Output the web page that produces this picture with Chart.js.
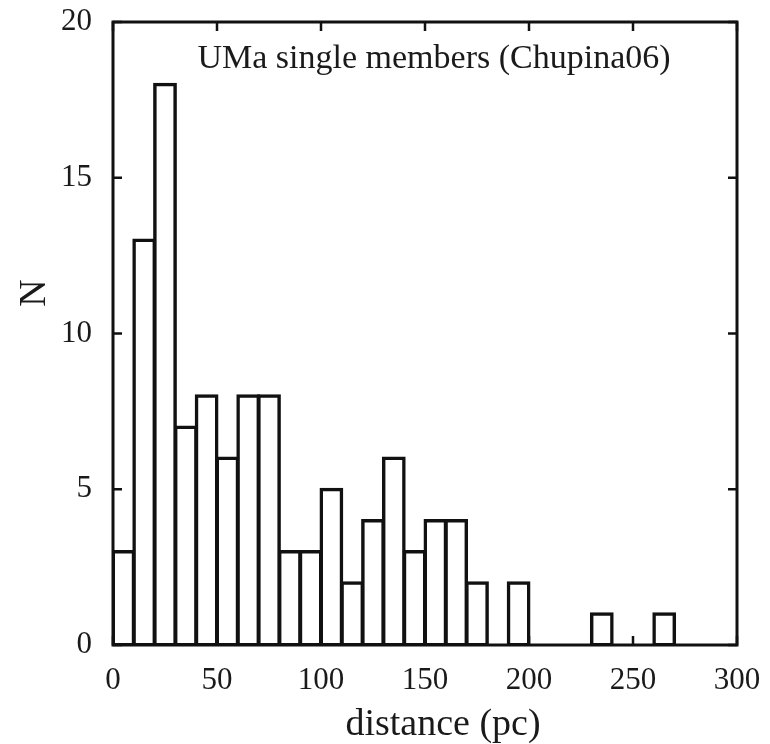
<!DOCTYPE html>
<html>
<head>
<meta charset="utf-8">
<script src="https://cdn.jsdelivr.net/npm/chart.js@4.4.0/dist/chart.umd.min.js"></script>
<style>
html, body { margin: 0; padding: 0; background: #fff; }
#wrap { width: 770px; height: 744px; }
</style>
</head>
<body>
<div id="wrap"><canvas id="hist" width="770" height="744"></canvas></div>
<script>
// histogram bins (pc), 10 pc wide
var binStarts = [0, 10, 20, 30, 40, 50, 60, 70, 80, 90,
                 100, 110, 120, 130, 140, 150, 160, 170, 180, 190,
                 200, 210, 220, 230, 240, 250, 260, 270, 280, 290];
var counts = [3, 13, 18, 7, 8, 6, 8, 8, 3, 3,
              5, 2, 4, 6, 3, 4, 4, 2, 0, 2,
              0, 0, 0, 1, 0, 0, 1, 0, 0, 0];
var binWidth = 10;
var xTicks = [0, 50, 100, 150, 200, 250, 300];
var yTicks = [0, 5, 10, 15, 20];
var chartTitle = 'UMa single members (Chupina06)';
var xLabel = 'distance (pc)';
var yLabel = 'N';

var serif = '"Liberation Serif", "Times New Roman", serif';
var ink = '#111';

var points = binStarts.map(function (s, i) {
	return { x: s + binWidth / 2, y: counts[i] };
});

// frame, inward ticks and the texts
var framePlugin = {
	id: 'frame',
	afterDatasetsDraw: function (chart) {
		var ctx = chart.ctx, a = chart.chartArea;
		var sx = chart.scales.x, sy = chart.scales.y;
		ctx.save();
		ctx.strokeStyle = ink;
		ctx.lineWidth = 3;
		ctx.strokeRect(a.left, a.top, a.right - a.left, a.bottom - a.top);

		ctx.lineWidth = 2.5;
		ctx.beginPath();
		xTicks.forEach(function (v) {
			var px = sx.getPixelForValue(v);
			ctx.moveTo(px, a.bottom); ctx.lineTo(px, a.bottom - 9);
			ctx.moveTo(px, a.top); ctx.lineTo(px, a.top + 9);
		});
		yTicks.forEach(function (v) {
			var py = sy.getPixelForValue(v);
			ctx.moveTo(a.left, py); ctx.lineTo(a.left + 9, py);
			ctx.moveTo(a.right, py); ctx.lineTo(a.right - 9, py);
		});
		ctx.stroke();

		ctx.fillStyle = '#1a1a1a';
		ctx.textAlign = 'center';
		ctx.textBaseline = 'alphabetic';
		ctx.font = '34px ' + serif;
		ctx.fillText(chartTitle, 434, 68);

		ctx.font = '38px ' + serif;
		ctx.fillText(xLabel, 443, 735);

		ctx.translate(45, 293);
		ctx.rotate(-Math.PI / 2);
		ctx.fillText(yLabel, 0, 0);
		ctx.restore();
	}
};

new Chart(document.getElementById('hist'), {
	type: 'bar',
	data: {
		datasets: [{
			data: points,
			backgroundColor: 'rgba(0,0,0,0)',
			borderColor: ink,
			borderWidth: 0.5,
			inflateAmount: 1.5,
			borderSkipped: false,
			barPercentage: 1,
			categoryPercentage: 1
		}]
	},
	options: {
		responsive: false,
		animation: false,
		layout: { autoPadding: false, padding: { left: 0, right: 33, top: 22, bottom: 0 } },
		plugins: {
			legend: { display: false },
			tooltip: { enabled: false },
			title: { display: false }
		},
		scales: {
			x: {
				type: 'linear',
				min: 0,
				max: 300,
				offset: false,
				afterBuildTicks: function (s) { s.ticks = xTicks.map(function (v) { return { value: v }; }); },
				afterFit: function (s) { s.height = 99; s.paddingLeft = 0; s.paddingRight = 0; },
				grid: { display: false, drawTicks: false },
				border: { display: false },
				ticks: { font: { family: serif, size: 31 }, color: '#1a1a1a', padding: 17, maxRotation: 0 }
			},
			y: {
				min: 0,
				max: 20,
				afterBuildTicks: function (s) { s.ticks = yTicks.map(function (v) { return { value: v }; }); },
				afterFit: function (s) { s.width = 113; s.paddingTop = 0; s.paddingBottom = 0; },
				grid: { display: false, drawTicks: false },
				border: { display: false },
				ticks: { font: { family: serif, size: 31 }, color: '#1a1a1a', padding: 21 }
			}
		}
	},
	plugins: [framePlugin]
});
</script>
</body>
</html>
